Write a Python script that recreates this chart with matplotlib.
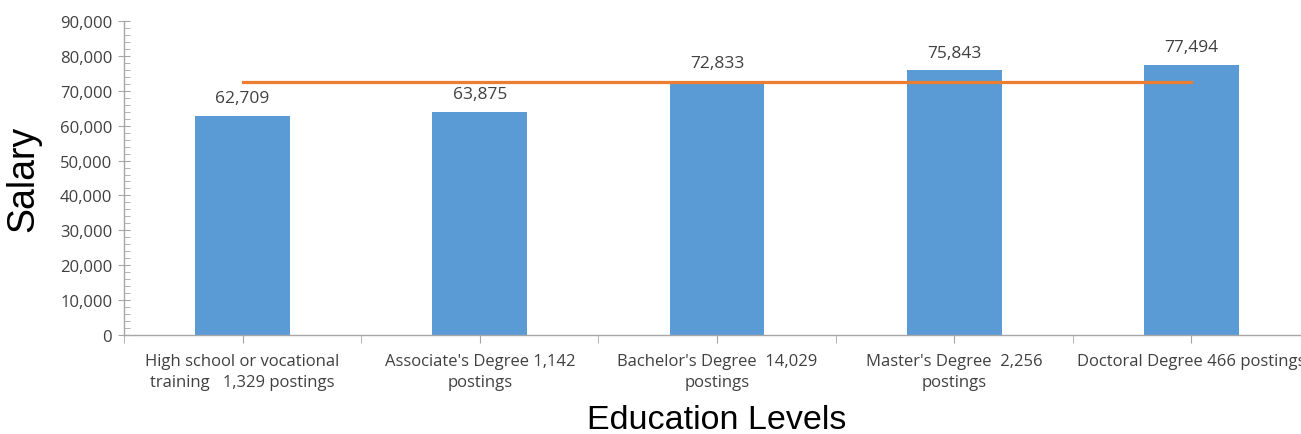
import matplotlib
matplotlib.use("Agg")
import matplotlib.pyplot as plt
from matplotlib.ticker import FuncFormatter, MultipleLocator, FixedLocator

categories = ["High school or vocational\ntraining   1,329 postings",
              "Associate's Degree 1,142\npostings",
              "Bachelor's Degree  14,029\npostings",
              "Master's Degree  2,256\npostings",
              "Doctoral Degree 466 postings"]
salaries = [62709, 63875, 72833, 75843, 77494]
average_line = [72600, 72600, 72600, 72600, 72600]

bar_color = "#5B9BD5"
line_color = "#ED7D31"
text_color = "#404040"
axis_color = "#A6A6A6"

fig = plt.figure(figsize=(13.01, 4.35), dpi=100)
W, H = 1301, 435
ax = fig.add_axes([124 / W, 1 - 336 / H, (1310 - 124) / W, (336 - 22) / H])

x = list(range(len(categories)))
ax.bar(x, salaries, width=0.4, color=bar_color, zorder=2)
ax.plot(x, average_line, color=line_color, lw=2.3, zorder=3)

for xi, v in zip(x, salaries):
    ax.annotate(f"{v:,}", (xi, v), xytext=(0, 7), textcoords="offset points",
                ha="center", va="bottom", fontsize=12.5, color=text_color, family="Open Sans")

ax.set_xlim(-0.5, 4.5)
ax.set_ylim(0, 90000)
ax.yaxis.set_major_locator(MultipleLocator(10000))
ax.yaxis.set_minor_locator(MultipleLocator(2000))
ax.yaxis.set_major_formatter(FuncFormatter(lambda v, p: f"{int(v):,}"))
ax.set_xticks(x)
ax.set_xticklabels(categories)
ax.xaxis.set_minor_locator(FixedLocator([-0.5, 0.5, 1.5, 2.5, 3.5, 4.5]))

for s in ["top", "right"]:
    ax.spines[s].set_visible(False)
for s in ["left", "bottom"]:
    ax.spines[s].set_color(axis_color)
    ax.spines[s].set_linewidth(1.0)

ax.tick_params(axis="y", which="major", direction="inout", length=9, color=axis_color,
               labelsize=12, labelcolor=text_color, pad=4)
ax.tick_params(axis="y", which="minor", direction="in", length=4, color=axis_color)
ax.tick_params(axis="x", which="both", direction="out", length=6, color=axis_color,
               labelsize=12, labelcolor=text_color, pad=7)
for lbl in ax.get_xticklabels() + ax.get_yticklabels():
    lbl.set_family("Open Sans")
for lbl in ax.get_xticklabels():
    lbl.set_linespacing(1.45)

ax.set_ylabel("Salary", fontsize=27, family="Liberation Sans", color="black")
ax.set_xlabel("Education Levels", fontsize=24.5, family="Liberation Sans", color="black", labelpad=10)
ax.yaxis.set_label_coords(-83 / (1310 - 124), 0.5)

fig.savefig("out.png", dpi=100, facecolor="white")
